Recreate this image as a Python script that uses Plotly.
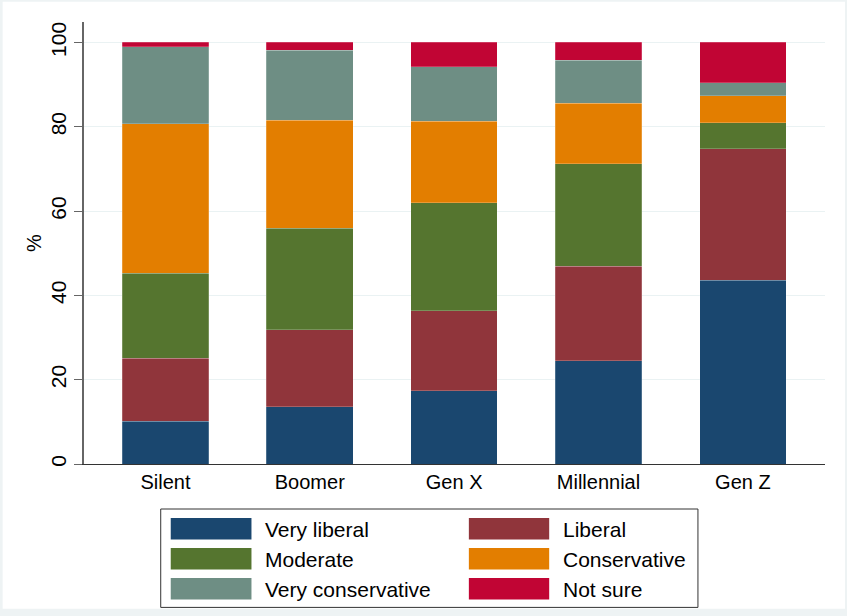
import plotly.graph_objects as go

generations = ["Silent", "Boomer", "Gen X", "Millennial", "Gen Z"]
very_liberal = [10.1, 13.6, 17.4, 24.5, 43.6]
liberal = [15.0, 18.3, 19.0, 22.4, 31.2]
moderate = [20.1, 24.0, 25.6, 24.3, 6.2]
conservative = [35.5, 25.6, 19.3, 14.4, 6.4]
very_conservative = [18.3, 16.6, 13.0, 10.2, 3.1]
not_sure = [1.0, 1.9, 5.7, 4.2, 9.5]

series_names = ["Very liberal", "Liberal", "Moderate", "Conservative", "Very conservative", "Not sure"]
series_values = [very_liberal, liberal, moderate, conservative, very_conservative, not_sure]
colors = ["#1a476f", "#90353b", "#55752f", "#e37e00", "#6e8e84", "#c10534"]

W, H = 847, 616
L, R, T, B = 84.3, 825.0, 22.3, 464.3
FONT = "Arial, Liberation Sans, sans-serif"

def px(xp):
    return (xp - L) / (R - L)

def py(yp):
    return (B - yp) / (B - T)

fig = go.Figure()
for name, vals, col in zip(series_names, series_values, colors):
    fig.add_trace(go.Bar(
        x=generations, y=vals, name=name,
        marker=dict(color=col, line=dict(width=0.6, color="rgba(255,255,255,0.35)")),
        showlegend=False,
    ))

shapes = []
# white inner region over light outer border
shapes.append(dict(type="rect", xref="paper", yref="paper", layer="below",
                   x0=px(3), x1=px(845), y0=py(2), y1=py(609),
                   fillcolor="white", line=dict(width=0)))
# legend box
shapes.append(dict(type="rect", xref="paper", yref="paper",
                   x0=px(161), x1=px(698), y0=py(509.3), y1=py(607.7),
                   fillcolor="white", line=dict(width=1, color="#333333")))
annotations = []
col_sw = [(171, 251.7, 263.5), (469, 549.3, 561.5)]
rows = [(518.3, 539.7), (548.3, 569.7), (578.3, 599.7)]
for i, (name, col) in enumerate(zip(series_names, colors)):
    r, c = divmod(i, 2)
    x0, x1, tx = col_sw[c]
    y0, y1 = rows[r]
    shapes.append(dict(type="rect", xref="paper", yref="paper",
                       x0=px(x0), x1=px(x1), y0=py(y0), y1=py(y1),
                       fillcolor=col, line=dict(width=0)))
    annotations.append(dict(xref="paper", yref="paper", x=px(tx), y=py((y0 + y1) / 2 + 0.5),
                            text=name, showarrow=False, xanchor="left", yanchor="middle",
                            font=dict(family=FONT, size=21, color="black")))

fig.update_layout(
    width=W, height=H,
    margin=dict(l=L, r=W - R, t=T, b=H - B),
    paper_bgcolor="#eef3f4", plot_bgcolor="white",
    barmode="stack", bargap=0.4,
    font=dict(family=FONT, size=20, color="black"),
    shapes=shapes, annotations=annotations,
    xaxis=dict(type="category", range=[-0.564, 4.569], showgrid=False,
               showline=True, linecolor="#333333", linewidth=1.2,
               ticks="", ticklen=0,
               tickfont=dict(family=FONT, size=20, color="black"), zeroline=False),
    yaxis=dict(range=[0, 104.86], tickvals=[0, 20, 40, 60, 80, 100], tickangle=-90,
               showgrid=True, gridcolor="#eaf2f3", gridwidth=1.2,
               showline=True, linecolor="#666666", linewidth=1.5,
               ticks="outside", ticklen=8, tickcolor="#666666", tickwidth=1.2,
               tickfont=dict(family=FONT, size=21, color="black"), zeroline=False,
               title=dict(text="%", font=dict(family=FONT, size=20, color="black"), standoff=0)),
)

fig.write_html("out.html")
